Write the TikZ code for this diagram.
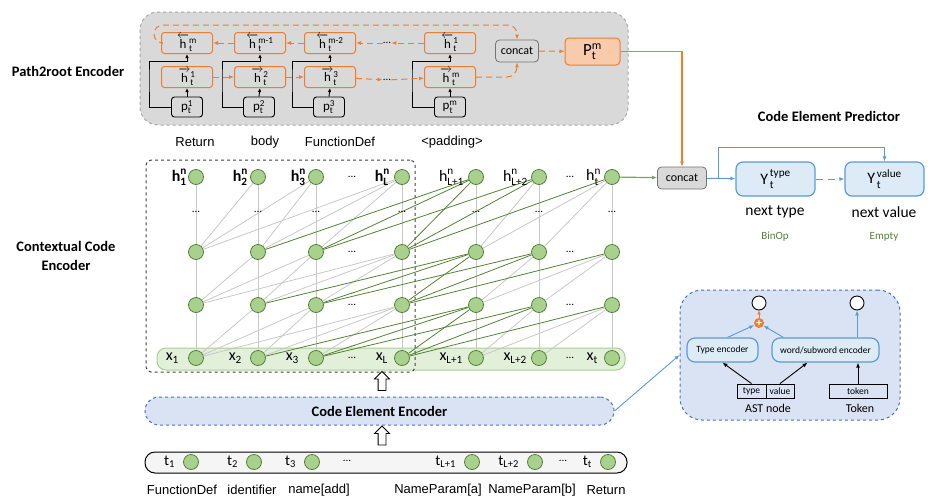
\documentclass[tikz,border=0pt]{standalone}
\usepackage{amsmath}
\usepackage{fontspec}
\setmainfont{Carlito}
\newfontfamily\arialfont{Liberation Sans}
\usetikzlibrary{arrows.meta,calc,positioning,shapes.arrows}
\definecolor{Orng}{HTML}{ED7D31}
\definecolor{Peach}{HTML}{F8CBAD}
\definecolor{Ash}{HTML}{D9D9D9}
\definecolor{AshLine}{HTML}{A6A6A6}
\definecolor{Leaf}{HTML}{A9D18E}
\definecolor{Moss}{HTML}{548235}
\definecolor{Grass}{HTML}{70AD47}
\definecolor{Sprout}{HTML}{E2F0D9}
\definecolor{Fog}{HTML}{C8C8C8}
\definecolor{Sky}{HTML}{5B9BD5}
\definecolor{Ice}{HTML}{DDEBF7}
\definecolor{Lav}{HTML}{DAE3F3}
\definecolor{Cobalt}{HTML}{4472C4}
\newcommand{\fsz}[1]{\fontsize{#1}{#1}\selectfont}
\tikzset{
  hbox/.style={draw=Orng,line width=1pt,rounded corners=3pt,minimum width=51,minimum height=21,inner sep=0pt,font=\fsz{13}},
  pbox/.style={draw=black,line width=0.9pt,rounded corners=3pt,minimum width=31,minimum height=20,inner sep=0pt,font=\fsz{13}},
  catbox/.style={draw=black!55,fill=Ash,line width=0.8pt,rounded corners=4pt,minimum height=22,inner sep=0pt,font=\fsz{12}},
  cell/.style={circle,draw=Moss,fill=Leaf,minimum size=15,inner sep=0pt,line width=0.8pt},
  odash/.style={draw=Orng,line width=1pt,dash pattern=on 6pt off 4pt,-{Latex[length=5pt,width=4pt]}},
  bypass/.style={draw=black,line width=0.9pt,-{Latex[length=4pt,width=3.5pt]}},
  ybox/.style={draw=Sky,fill=Ice,line width=1.2pt,rounded corners=7pt,minimum width=79,minimum height=34,inner sep=0pt,font=\fsz{16}},
  encbox/.style={draw=Sky,fill=Ice,line width=1.2pt,rounded corners=8pt,minimum height=24,inner sep=0pt,font=\fsz{9.5}},
  fieldbox/.style={draw=black,line width=0.9pt,minimum height=14,inner sep=0pt,font=\fsz{9.5}},
  ring/.style={circle,draw=black,fill=white,line width=0.9pt,minimum size=14,inner sep=0pt},
  bline/.style={draw=Sky,line width=1pt,-{Latex[length=5pt,width=4pt]}},
  hollow/.style={single arrow,draw=black,fill=white,line width=0.8pt,rotate=90,minimum height=19,inner sep=3.5pt,single arrow head extend=3.5pt},
  dotlab/.style={font=\fsz{11},inner sep=0pt},
  hlab/.style={font=\fsz{16},inner sep=0pt},
  xlab/.style={font=\fsz{16},inner sep=0pt},
  word/.style={font=\arialfont\fsz{13},inner sep=0pt},
  title/.style={font=\bfseries\fsz{14.5},inner sep=0pt,align=center}
}
\begin{document}
\begin{tikzpicture}[x=1pt,y=-1pt]
  \useasboundingbox (0,0) rectangle (928,498);

  % path2root encoder
  \node[draw=AshLine,fill=Ash,dashed,line width=1pt,rounded corners=18pt,minimum width=488,minimum height=113] (p2r) at (384,68.5) {};
  \node[title] (p2rtitle) at (68,71) {Path2root Encoder};

  \node[hbox] (bk1) at (187,43) {$\overleftarrow{\text{h}}^{\text{m}}_{\text{t}}$};
  \node[hbox] (bk2) at (260,43) {$\overleftarrow{\text{h}}^{\text{m-1}}_{\text{t}}$};
  \node[hbox] (bk3) at (330,43) {$\overleftarrow{\text{h}}^{\text{m-2}}_{\text{t}}$};
  \node[dotlab] (bkdots) at (387,43) {...};
  \node[hbox] (bkm) at (450,43) {$\overleftarrow{\text{h}}^{\text{1}}_{\text{t}}$};
  \node[hbox] (fw1) at (187,77) {$\overrightarrow{\text{h}}^{\text{1}}_{\text{t}}$};
  \node[hbox] (fw2) at (260,77) {$\overrightarrow{\text{h}}^{\text{2}}_{\text{t}}$};
  \node[hbox] (fw3) at (330,77) {$\overrightarrow{\text{h}}^{\text{3}}_{\text{t}}$};
  \node[dotlab] (fwdots) at (387,80) {...};
  \node[hbox] (fwm) at (450,77) {$\overrightarrow{\text{h}}^{\text{m}}_{\text{t}}$};
  \node[pbox] (p1) at (187,107) {$\text{p}^{\text{1}}_{\text{t}}$};
  \node[pbox] (p2) at (259,107) {$\text{p}^{\text{2}}_{\text{t}}$};
  \node[pbox] (p3) at (329,107) {$\text{p}^{\text{3}}_{\text{t}}$};
  \node[pbox] (pm) at (450,107) {$\text{p}^{\text{m}}_{\text{t}}$};
  \node[catbox,minimum width=43] (cc1) at (517,51) {concat};
  \node[draw=Orng,fill=Peach,line width=1pt,rounded corners=4pt,minimum width=55,minimum height=27,font=\fsz{17}] (ppath) at (592.5,51.5) {$\text{P}^{\text{m}}_{\text{t}}$};

  \foreach \c in {1,2,3,m} {
    \draw[bypass] (p\c.north) -- (fw\c.south);
    \draw[bypass] (p\c.west) -| ([xshift=-12pt]fw\c.west) |- ([yshift=-7pt]bk\c.south) -- (bk\c.south);
  }
  \draw[odash] (fw1) -- (fw2);
  \draw[odash] (fw2) -- (fw3);
  \draw[odash] (fw3) -- (fwdots);
  \draw[odash] (fwdots) -- (fwm);
  \draw[odash] (bkm) -- (bkdots);
  \draw[odash] (bkdots) -- (bk3);
  \draw[odash] (bk3) -- (bk2);
  \draw[odash] (bk2) -- (bk1);
  \draw[odash,rounded corners=9pt] (bk1.west) -- ++(-7,0) -- ++(0,-18) -| (cc1.north);
  \draw[odash,rounded corners=10pt] (fwm.east) -| (cc1.south);
  \draw[odash] (cc1) -- (ppath);

  % labels of the path nodes
  \node[word] (wret) at (195,142) {Return};
  \node[word] (wbody) at (265,142) {body};
  \node[word] (wfdef) at (340,142) {FunctionDef};
  \node[word] (wpad) at (452,142) {<padding>};

  % contextual code encoder
  \node[title] (ccetitle) at (66,256) {Contextual Code\\[4pt]Encoder};
  \node[draw=Leaf,fill=Sprout,line width=1pt,rounded corners=9pt,minimum width=468,minimum height=22] (xband) at (391,359) {};
  \node[draw=black!75,dashed,line width=1pt,rounded corners=5pt,minimum width=269,minimum height=212] (mem) at (280.5,266) {};

  \foreach \j/\x in {1/196,2/258,3/316,4/402,5/476,6/539,7/612}
    \foreach \r/\y in {0/358,1/305,2/252,3/177}
      \node[cell] (n\j\r) at (\x,\y) {};

  \foreach \j in {1,...,7} {
    \draw[Fog,line width=0.9pt] (n\j1) -- (n\j0);
    \draw[Fog,line width=0.9pt] (n\j2) -- (n\j1);
    \draw[Fog,line width=0.9pt] (n\j3) -- (n\j2);
  }
  \foreach \j/\k/\col in {2/1/Fog,3/1/Fog,3/2/Fog,4/1/Fog,4/2/Fog,4/3/Fog,
      5/2/Moss,5/3/Moss,5/4/Moss,6/3/Moss,6/4/Moss,6/5/Fog,7/4/Moss,7/5/Fog,7/6/Fog}
    \foreach \r/\q in {1/0,2/1,3/2}
      \draw[\col,line width=0.8pt] (n\j\r) -- (n\k\q);

  \foreach \j/\x in {1/196,2/258,3/316,4/402,5/476,6/539,7/612}
    \node[dotlab] (vd\j) at (\x,212) {...};
  \foreach \y [count=\i] in {358,305,252,177} {
    \node[dotlab] (ld\i) at (352,\y) {...};
    \node[dotlab] (rd\i) at (570,\y) {...};
  }

  \node[hlab,left=1pt of n13] (lh1) {\bfseries$\text{h}^{\text{n}}_{\text{1}}$};
  \node[hlab,left=2pt of n23] (lh2) {\bfseries$\text{h}^{\text{n}}_{\text{2}}$};
  \node[hlab,left=2pt of n33] (lh3) {\bfseries$\text{h}^{\text{n}}_{\text{3}}$};
  \node[hlab,left=4pt of n43] (lh4) {\bfseries$\text{h}^{\text{n}}_{\text{L}}$};
  \node[hlab,left=4pt of n53] (lh5) {$\text{h}^{\text{n}}_{\text{L+1}}$};
  \node[hlab,left=3pt of n63] (lh6) {$\text{h}^{\text{n}}_{\text{L+2}}$};
  \node[hlab,left=3pt of n73] (lh7) {$\text{h}^{\text{n}}_{\text{t}}$};

  \node[xlab,left=9pt of n10] (lx1) {x\textsubscript{1}};
  \node[xlab,left=8pt of n20] (lx2) {x\textsubscript{2}};
  \node[xlab,left=9pt of n30] (lx3) {x\textsubscript{3}};
  \node[xlab,left=6pt of n40] (lx4) {x\textsubscript{L}};
  \node[xlab,left=5pt of n50] (lx5) {x\textsubscript{L+1}};
  \node[xlab,left=4pt of n60] (lx6) {x\textsubscript{L+2}};
  \node[xlab,left=6pt of n70] (lx7) {x\textsubscript{t}};

  % code element encoder and tokens
  \node[hollow] (up1) at (382,383) {};
  \node[draw=Cobalt,fill=Lav,dashed,line width=1pt,rounded corners=14pt,minimum width=469,minimum height=28,font=\bfseries\fsz{14.5}] (cee) at (379.5,411) {Code Element Encoder};
  \node[hollow] (up2) at (382,437.5) {};
  \node[draw=black,fill=black!4,line width=1pt,rounded corners=10pt,minimum width=482,minimum height=21] (tband) at (386,462.5) {};

  \foreach \n/\x/\s in {1/191/1,2/254/2,3/312/3,4/472/L+1,5/535/L+2,6/608/t} {
    \node[cell] (tk\n) at (\x,462) {};
    \node[xlab,font=\fsz{15},left=8pt of tk\n] (lt\n) {t\textsubscript{\s}};
  }
  \node[dotlab] (td1) at (347,461) {...};
  \node[dotlab] (td2) at (563,461) {...};

  \node[word] (wt1) at (182,490) {FunctionDef};
  \node[word] (wt2) at (252,490) {identifier};
  \node[word] (wt3) at (319,490) {name[add]};
  \node[word] (wt4) at (438,490) {NameParam[a]};
  \node[word] (wt5) at (532,490) {NameParam[b]};
  \node[word] (wt6) at (606,490) {Return};

  % code element predictor
  \node[title] (cep) at (829,116) {Code Element Predictor};
  \node[catbox,minimum width=49] (cc2) at (682,178) {concat};
  \node[ybox] (ytype) at (775.5,179) {$\text{Y}^{\,\text{type}}_{\,\text{t}}$};
  \node[ybox] (yval) at (884.5,179) {$\text{Y}^{\,\text{value}}_{\,\text{t}}$};
  \node[font=\fsz{15.5},inner sep=0pt] (ntype) at (775,212) {next type};
  \node[font=\fsz{15.5},inner sep=0pt] (nval) at (884,212) {next value};
  \node[font=\fsz{11},text=Moss,inner sep=0pt] (binop) at (775,237) {BinOp};
  \node[font=\fsz{11},text=Moss,inner sep=0pt] (empty) at (884,237) {Empty};

  \draw[draw=Orng,line width=1.2pt,-{Latex[length=5pt,width=4pt]}] (ppath.east) -| (cc2.north);
  \draw[draw=Grass,line width=1.2pt,-{Latex[length=5pt,width=4pt]}] (n73) -- (cc2);
  \draw[bline] (cc2) -- (ytype);
  \draw[bline] ([xshift=12pt]cc2.east) -- ++(0,-31) -| (yval.north);
  \draw[bline,dash pattern=on 7pt off 5pt] (ytype) -- (yval);

  % element encoder detail
  \node[draw=Cobalt,fill=Lav,dashed,line width=1pt,rounded corners=22pt,minimum width=220,minimum height=130] (panel) at (790,355) {};
  \draw[draw=Sky,line width=0.9pt,-{Latex[length=5pt,width=4pt]}] (cee.east) -- (panel.west);
  \node[encbox,minimum width=71] (tenc) at (722.5,350) {Type encoder};
  \node[encbox,minimum width=107] (wenc) at (825.5,350) {word/subword encoder};
  \node[ring] (out1) at (759,303) {};
  \node[ring] (out2) at (857,303) {};
  \node[circle,fill=Orng,minimum size=10,inner sep=0pt,text=white,font=\bfseries\fsz{11}] (plus) at (759,323) {+};
  \node[fieldbox,minimum width=29] (ftype) at (751.5,391) {type};
  \node[fieldbox,minimum width=28] (fval) at (780,391) {value};
  \node[fieldbox,minimum width=58] (ftok) at (858,391) {token};
  \node[font=\fsz{12},inner sep=0pt] (astlab) at (768,408) {AST node};
  \node[font=\fsz{12},inner sep=0pt] (toklab) at (860,408) {Token};

  \draw[draw=Sky,line width=0.9pt,-{Latex[length=5pt,width=4pt]}] ([xshift=5pt]tenc.north) -- (plus);
  \draw[draw=Sky,line width=0.9pt,-{Latex[length=5pt,width=4pt]}] ([xshift=12pt]wenc.north west) -- (plus);
  \draw[draw=Orng,line width=1pt,-{Latex[length=4pt,width=4pt]}] (plus) -- (out1);
  \draw[draw=Sky,line width=0.9pt,-{Latex[length=5pt,width=4pt]}] (out2 |- wenc.north) -- (out2);
  \draw[draw=black,line width=0.9pt,-{Latex[length=5pt,width=4pt]}] (ftype.north) -- (tenc.south);
  \draw[draw=black,line width=0.9pt,-{Latex[length=5pt,width=4pt]}] (fval.north) -- ([xshift=-18pt]wenc.south);
  \draw[draw=black,line width=0.9pt,-{Latex[length=5pt,width=4pt]}] (ftok.north) -- (ftok.north |- wenc.south);
\end{tikzpicture}
\end{document}
